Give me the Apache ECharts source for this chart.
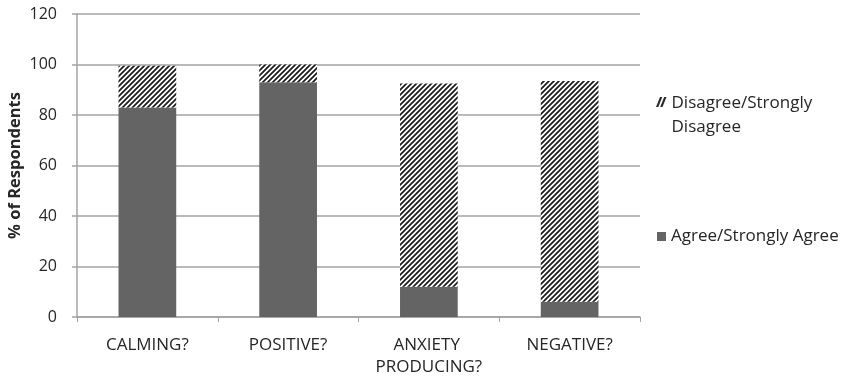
<!DOCTYPE html>
<html>
<head>
<meta charset="utf-8">
<script src="https://cdn.jsdelivr.net/npm/echarts@6/dist/echarts.min.js"></script>
<style>
  html, body { margin: 0; padding: 0; background: #fff; }
  #chart { width: 841px; height: 380px; }
</style>
</head>
<body>
<div id="chart"></div>
<script>
// Survey responses per question (percent of respondents)
const categories = ['CALMING?', 'POSITIVE?', 'ANXIETY PRODUCING?', 'NEGATIVE?'];
const agree = [83, 93, 12, 6];
const disagree = [16.5, 7, 80.5, 87.5];
const yTicks = [0, 20, 40, 60, 80, 100, 120];

const FONT = 'Open Sans';
const TEXT = '#262626';
const AXIS = '#a3a3a3';

// Diagonal hatch tile used for the "disagree" segments
function hatchPattern() {
  const s = 5;
  const c = document.createElement('canvas');
  c.width = s; c.height = s;
  const g = c.getContext('2d');
  g.fillStyle = '#ffffff';
  g.fillRect(0, 0, s, s);
  g.strokeStyle = '#1a1a1a';
  g.lineWidth = 1.7;
  g.beginPath();
  g.moveTo(-1, s + 1); g.lineTo(s + 1, -1);
  g.moveTo(-1, 1); g.lineTo(1, -1);
  g.moveTo(s - 1, s + 1); g.lineTo(s + 1, s - 1);
  g.stroke();
  return c;
}
const hatch = { image: hatchPattern(), repeat: 'repeat' };

// Legend marker for the hatched series: two short slashes beside the first
// line of a two-line label, with a near-invisible speck holding the box open below.
const slashIcon = 'path://M0,10L2.3,10L6.3,0L4,0Z M4.2,10L6.5,10L10.5,0L8.2,0Z M0,35.9h0.1v0.1h-0.1z';

const chart = echarts.init(document.getElementById('chart'), null, { renderer: 'canvas' });

chart.setOption({
  animation: false,
  textStyle: { fontFamily: FONT },
  grid: { left: 77, right: 201, top: 14, bottom: 63, outerBoundsMode: 'none', containLabel: false },
  legend: [
    {
      orient: 'vertical', left: 651, top: 86,
      data: ['Disagree/Strongly Disagree'],
      itemWidth: 10.5, itemHeight: 36, icon: slashIcon, itemGap: 6,
      itemStyle: { color: '#2a2a2a' },
      formatter: () => 'Disagree/Strongly\nDisagree',
      textStyle: { fontFamily: FONT, fontSize: 17, color: TEXT, lineHeight: 24 }
    },
    {
      orient: 'vertical', left: 652, top: 223,
      data: ['Agree/Strongly Agree'],
      itemWidth: 9, itemHeight: 9, icon: 'rect', itemGap: 6,
      textStyle: { fontFamily: FONT, fontSize: 17, color: TEXT }
    }
  ],
  xAxis: {
    type: 'category',
    data: categories,
    axisLine: { lineStyle: { color: AXIS, width: 1.5 } },
    axisTick: { show: true, length: 5, lineStyle: { color: AXIS } },
    axisLabel: {
      interval: 0, align: 'center',
      color: TEXT, fontSize: 17, fontFamily: FONT, margin: 17,
      width: 130, overflow: 'break', lineHeight: 22
    }
  },
  yAxis: {
    type: 'value',
    min: yTicks[0], max: yTicks[yTicks.length - 1], interval: 20,
    name: '% of Respondents',
    nameLocation: 'middle',
    nameGap: 53,
    nameMoveOverlap: false,
    nameTextStyle: { fontFamily: FONT, fontSize: 16.5, fontWeight: 'bold', color: TEXT },
    axisLine: { show: true, lineStyle: { color: AXIS, width: 1.5 } },
    axisTick: { show: true, length: 5, lineStyle: { color: AXIS, width: 1.5 } },
    axisLabel: { color: TEXT, fontSize: 16, fontFamily: FONT, margin: 20 },
    splitLine: { lineStyle: { color: AXIS, width: 1.5 } }
  },
  series: [
    {
      name: 'Agree/Strongly Agree',
      type: 'bar', stack: 'total',
      barWidth: '41%',
      data: agree,
      itemStyle: { color: '#646464' }
    },
    {
      name: 'Disagree/Strongly Disagree',
      type: 'bar', stack: 'total',
      barWidth: '41%',
      data: disagree,
      itemStyle: { color: hatch }
    }
  ]
});
</script>
</body>
</html>
